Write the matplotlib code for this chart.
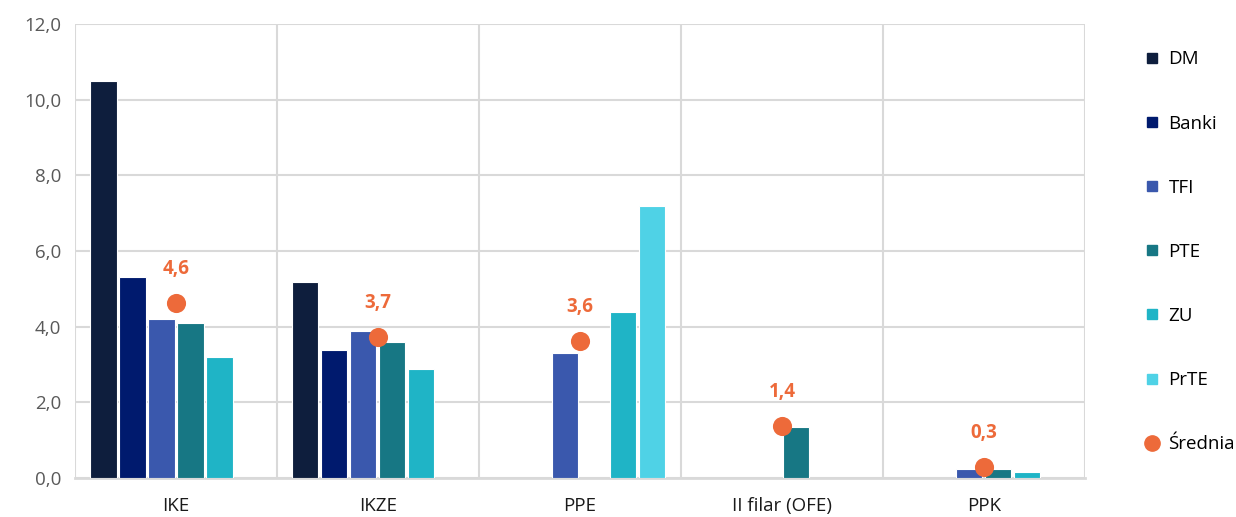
import numpy as np
import matplotlib
matplotlib.use("Agg")
import matplotlib.pyplot as plt
from matplotlib.lines import Line2D

plt.rcParams['font.family'] = ['Open Sans', 'DejaVu Sans']

categories = ["IKE", "IKZE", "PPE", "II filar (OFE)", "PPK"]
series_names = ["DM", "Banki", "TFI", "PTE", "ZU", "PrTE"]
dm = [10.48, 5.18, 0.0, 0.0, 0.0]
banki = [5.3, 3.39, 0.0, 0.0, 0.0]
tfi = [4.19, 3.89, 3.3, 0.0, 0.25]
pte = [4.1, 3.6, 0.0, 1.35, 0.25]
zu = [3.19, 2.88, 4.39, 0.0, 0.17]
prte = [0.0, 0.0, 7.2, 0.0, 0.0]
srednia = [4.62, 3.72, 3.62, 1.38, 0.29]
srednia_labels = ["4,6", "3,7", "3,6", "1,4", "0,3"]
yticks = [0, 2, 4, 6, 8, 10, 12]

colors = ["#0E1E3D", "#001A6E", "#3A58AD", "#177784", "#1FB4C6", "#4FD2E6"]
dot_color = "#ED6A3A"

fig = plt.figure(figsize=(12.36, 5.17), dpi=100)
ax = fig.add_axes([0.0607, 0.0754, 0.817, 0.8782])

x = np.arange(len(categories))
step = 0.1436
width = 0.129
for i, vals in enumerate([dm, banki, tfi, pte, zu, prte]):
    vals = np.array(vals)
    keep = vals > 0
    ax.bar(x[keep] + (i - 2.5) * step, vals[keep], width, color=colors[i],
           edgecolor="white", linewidth=0.8, zorder=3)

ax.scatter(x, srednia, s=190, color=dot_color, zorder=4, linewidths=0)
for xi, yi, lab in zip(x, srednia, srednia_labels):
    ax.annotate(lab, (xi, yi), xytext=(0, 34), textcoords="offset pixels",
                ha="center", va="center", color=dot_color, fontsize=13.5,
                fontweight="bold")

ax.set_xlim(-0.5, len(categories) - 0.5)
ax.set_ylim(0, 12)
ax.set_yticks(yticks)
ax.set_yticklabels([f"{v:.1f}".replace(".", ",") for v in yticks],
                   color="#595959", fontsize=13.5)
ax.set_xticks(x)
ax.set_xticklabels(categories, fontsize=13.5, color="#1a1a1a")
ax.set_xticks(np.arange(-0.5, len(categories)), minor=True)
ax.tick_params(axis="both", which="both", length=0)
ax.tick_params(axis="y", pad=10)
ax.tick_params(axis="x", pad=14)
ax.grid(axis="y", color="#d9d9d9", linewidth=1.5, zorder=0)
ax.grid(axis="x", which="minor", color="#d9d9d9", linewidth=1.5, zorder=0)
ax.grid(axis="x", which="major", visible=False)
for side in ["top", "right", "left"]:
    ax.spines[side].set_visible(False)
ax.spines["bottom"].set_color("#d9d9d9")
ax.spines["bottom"].set_linewidth(2)
ax.set_axisbelow(True)

handles = [Line2D([], [], marker="s", linestyle="none", color=c, markersize=7.5)
           for c in colors]
handles.append(Line2D([], [], marker="o", linestyle="none", color=dot_color,
                      markersize=11))
leg = fig.legend(handles, series_names + ["Średnia"], loc="upper left",
                 bbox_to_anchor=(0.912, 0.935), frameon=False, fontsize=13.5,
                 labelspacing=2.46, handlelength=0.8, handletextpad=0.5)

fig.savefig("out.png", dpi=100)
